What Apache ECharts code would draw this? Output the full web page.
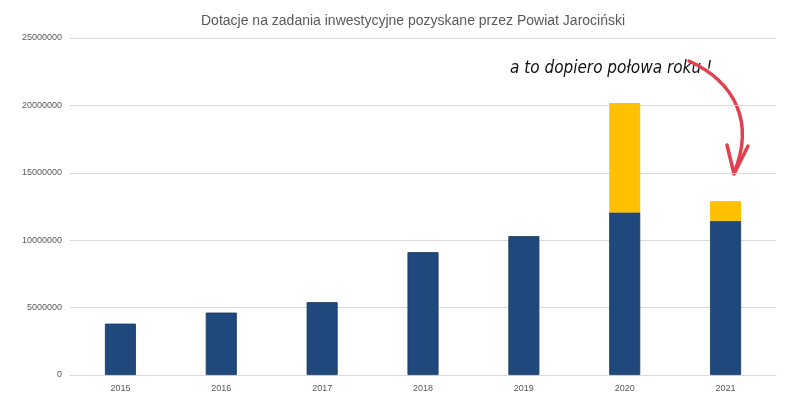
<!DOCTYPE html>
<html>
<head>
<meta charset="utf-8">
<script src="https://cdn.jsdelivr.net/npm/echarts@6/dist/echarts.min.js"></script>
<style>
html,body{margin:0;padding:0;background:#fff;}
#chart{width:786px;height:415px;}
</style>
</head>
<body>
<div id="chart"></div>
<script>
const titleText = 'Dotacje na zadania inwestycyjne pozyskane przez Powiat Jarociński';
const years = ['2015', '2016', '2017', '2018', '2019', '2020', '2021'];
const baseValues = [3810000, 4630000, 5400000, 9110000, 10300000, 12060000, 11440000];
const extraValues = [0, 0, 0, 0, 0, 8120000, 1460000];
const annotationText = 'a to dopiero połowa roku !';

const chart = echarts.init(document.getElementById('chart'), null, {renderer: 'canvas'});
chart.setOption({
  animation: false,
  backgroundColor: '#ffffff',
  title: {
    text: titleText,
    left: 196,
    top: 9,
    textStyle: {fontFamily: 'Liberation Sans', fontSize: 14, fontWeight: 'normal', color: '#595959'}
  },
  grid: {left: 70, right: 10, top: 38, bottom: 40, containLabel: false},
  xAxis: {
    type: 'category',
    data: years,
    axisLine: {show: true, lineStyle: {color: '#d9d9d9', width: 1}},
    axisTick: {show: false},
    axisLabel: {color: '#595959', fontFamily: 'Liberation Sans', fontSize: 9, margin: 9}
  },
  yAxis: {
    type: 'value',
    min: 0,
    max: 25000000,
    interval: 5000000,
    axisLine: {show: false},
    axisTick: {show: false},
    splitLine: {lineStyle: {color: '#d9d9d9', width: 1}},
    axisLabel: {
      color: '#595959', fontFamily: 'Liberation Sans', fontSize: 9, margin: 8,
      formatter: function (v) { return String(v); }
    }
  },
  series: [
    {
      name: 'base',
      type: 'bar',
      stack: 'total',
      data: baseValues,
      barWidth: 31,
      itemStyle: {color: '#1f497d', borderColor: '#17375e', borderWidth: 0.8}
    },
    {
      name: 'extra',
      type: 'bar',
      stack: 'total',
      data: extraValues,
      barWidth: 31,
      itemStyle: {color: '#ffc000'}
    }
  ],
  graphic: [
    {
      type: 'text',
      left: 510,
      top: 60,
      style: {
        text: annotationText,
        font: 'italic 17px "DejaVu Sans Condensed", "Liberation Sans Narrow", sans-serif',
        fill: '#111111'
      }
    },
    {
      type: 'bezierCurve',
      shape: {x1: 689, y1: 61, cpx1: 735, cpy1: 82, cpx2: 755, cpy2: 122, x2: 734, y2: 173},
      style: {stroke: '#e0404f', lineWidth: 3.5, fill: null, lineCap: 'round'}
    },
    {
      type: 'polyline',
      shape: {points: [[727, 145], [734, 174], [748, 146]]},
      style: {stroke: '#e0404f', lineWidth: 3.5, fill: null, lineCap: 'round', lineJoin: 'round'}
    }
  ]
});
</script>
</body>
</html>
